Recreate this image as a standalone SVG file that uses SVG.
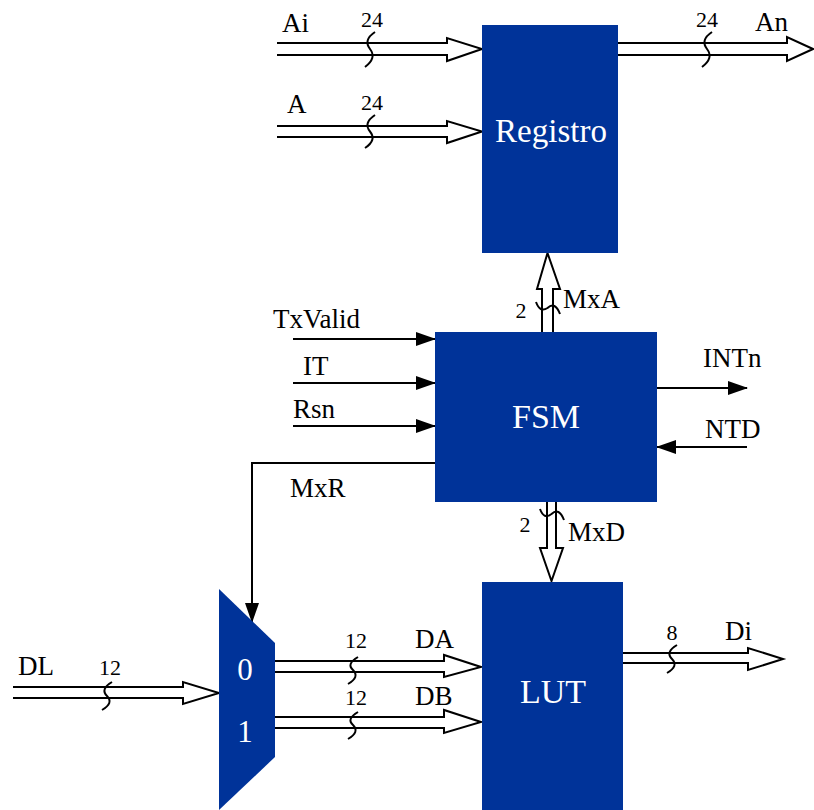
<svg xmlns="http://www.w3.org/2000/svg" width="814" height="810" viewBox="0 0 814 810">
<defs>
<style>
.blk{fill:#003399}
.bt{fill:#ffffff;font-family:"Liberation Serif","Times New Roman",serif;text-anchor:middle}
.lbl{fill:#000;font-family:"Liberation Serif","Times New Roman",serif;font-size:27px}
.num{fill:#000;font-family:"Liberation Serif","Times New Roman",serif;font-size:22px;text-anchor:middle}
.bus{fill:#ffffff;stroke:#000;stroke-width:2;stroke-linejoin:miter}
.wire{fill:none;stroke:#000;stroke-width:2}
.tick{fill:none;stroke:#000;stroke-width:2}
</style>
<marker id="ah" markerUnits="userSpaceOnUse" markerWidth="20" markerHeight="16" refX="19" refY="7" orient="auto">
<path d="M0,0 L20,7 L0,14 z" fill="#000"/>
</marker>
</defs>
<rect width="814" height="810" fill="#ffffff"/>

<g id="connectors">
<!-- Ai bus -->
<path class="bus" d="M277,43 L447,43 L447,38 L482,49 L447,61 L447,55 L277,55"/>
<path class="tick" d="M375,32 Q363,40 370,49 Q377,58 365,67"/>
<!-- A bus -->
<path class="bus" d="M277,126 L447,126 L447,121 L482,131.5 L447,143 L447,137 L277,137"/>
<path class="tick" d="M375,115 Q363,123 370,131.5 Q377,140 365,148"/>
<!-- An bus -->
<path class="bus" d="M618,43 L787,43 L787,37 L813,49 L787,61 L787,55 L618,55"/>
<path class="tick" d="M712,32 Q700,40 707,49 Q714,58 702,67"/>
<!-- MxA bus -->
<path class="bus" d="M542,332 L542,289 L537,289 L547.5,253 L560,289 L553,289 L553,332"/>
<path class="tick" d="M536,302 Q540,313 547.5,308 Q555,301 560,314"/>
<!-- MxD bus -->
<path class="bus" d="M547,502 L547,548 L540,548 L551.5,581 L563,548 L556,548 L556,502"/>
<path class="tick" d="M540,509 Q544,520 551.5,514 Q559,507 564,520"/>
<!-- DL bus -->
<path class="bus" d="M13,687 L183,687 L183,682 L219,693 L183,704 L183,698 L13,698"/>
<path class="tick" d="M112,682 Q100,689 107,696 Q114,703 102,710"/>
<!-- DA bus -->
<path class="bus" d="M275,661 L444,661 L444,655 L481,667 L444,677 L444,672 L275,672"/>
<path class="tick" d="M358,657 Q346,664 353,670 Q360,677 348,684"/>
<!-- DB bus -->
<path class="bus" d="M275,717 L444,717 L444,710 L481,722 L444,733 L444,728 L275,728"/>
<path class="tick" d="M358,712 Q346,719 353,725 Q360,732 348,739"/>
<!-- Di bus -->
<path class="bus" d="M622,653 L748,653 L748,648 L783,659 L748,670 L748,663 L622,663"/>
<path class="tick" d="M677,645 Q665,652 672,659 Q679,666 667,673"/>
<!-- control wires -->
<line class="wire" x1="293" y1="339" x2="435" y2="339" marker-end="url(#ah)"/>
<line class="wire" x1="293" y1="383" x2="435" y2="383" marker-end="url(#ah)"/>
<line class="wire" x1="293" y1="426" x2="435" y2="426" marker-end="url(#ah)"/>
<line class="wire" x1="657" y1="388" x2="747" y2="388" marker-end="url(#ah)"/>
<line class="wire" x1="747" y1="447" x2="657" y2="447" marker-end="url(#ah)"/>
<polyline class="wire" points="435,463 252,463 252,622" marker-end="url(#ah)"/>
</g>

<g id="registro">
<rect class="blk" x="482" y="25" width="136" height="228"/>
<text class="bt" x="551" y="142" font-size="33">Registro</text>
</g>
<g id="fsm">
<rect class="blk" x="435" y="332" width="222" height="170"/>
<text class="bt" x="546" y="428" font-size="34">FSM</text>
</g>
<g id="lut">
<rect class="blk" x="482" y="582" width="141" height="228"/>
<text class="bt" x="553" y="703" font-size="34">LUT</text>
</g>
<g id="mux">
<polygon class="blk" points="219,589 275,643 275,757 219,810"/>
<text class="bt" x="245" y="680" font-size="31">0</text>
<text class="bt" x="245" y="742" font-size="31">1</text>
</g>

<g id="labels">
<text class="lbl" x="282" y="32">Ai</text>
<text class="num" x="372" y="27">24</text>
<text class="lbl" x="287" y="113">A</text>
<text class="num" x="372" y="110">24</text>
<text class="num" x="707" y="27">24</text>
<text class="lbl" x="755" y="31">An</text>
<text class="lbl" x="563" y="308">MxA</text>
<text class="num" x="521" y="318">2</text>
<text class="lbl" x="273" y="328">TxValid</text>
<text class="lbl" x="303" y="375">IT</text>
<text class="lbl" x="293" y="418">Rsn</text>
<text class="lbl" x="703" y="367">INTn</text>
<text class="lbl" x="705" y="438">NTD</text>
<text class="lbl" x="290" y="497">MxR</text>
<text class="num" x="525" y="532">2</text>
<text class="lbl" x="568" y="541">MxD</text>
<text class="lbl" x="18" y="675">DL</text>
<text class="num" x="110" y="675">12</text>
<text class="num" x="356" y="648">12</text>
<text class="lbl" x="415" y="648">DA</text>
<text class="num" x="356" y="705">12</text>
<text class="lbl" x="415" y="705">DB</text>
<text class="num" x="672" y="640">8</text>
<text class="lbl" x="725" y="640">Di</text>
</g>
</svg>
